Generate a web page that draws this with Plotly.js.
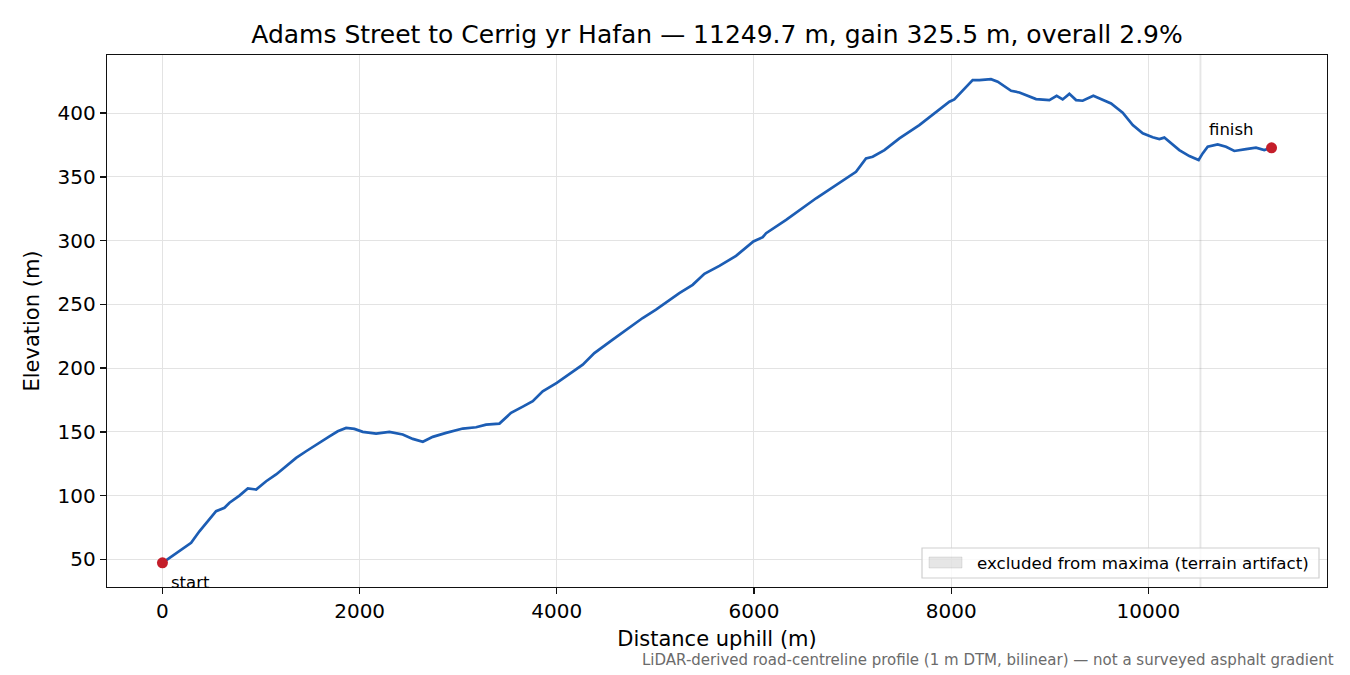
<!DOCTYPE html>
<html>
<head>
<meta charset="utf-8">
<script src="https://cdn.plot.ly/plotly-3.0.1.min.js"></script>
<style>html,body{margin:0;padding:0;background:#fff;}#chart{width:1350px;height:675px;}</style>
</head>
<body>
<div id="chart"></div>
<script>
// Distance uphill (m)
const distance = [0, 172, 291, 375, 443, 544, 629, 680, 781, 866, 950, 1052, 1153, 1254, 1356, 1457, 1558, 1694, 1778, 1863, 1947, 2032, 2167, 2302, 2437, 2539, 2641, 2742, 2877, 3046, 3181, 3283, 3418, 3536, 3655, 3756, 3857, 4000, 4263, 4381, 4567, 4871, 5006, 5243, 5378, 5497, 5649, 5818, 5994, 6089, 6123, 6258, 6326, 6630, 6866, 7035, 7136, 7204, 7323, 7475, 7677, 7880, 7982, 8032, 8117, 8218, 8286, 8404, 8472, 8608, 8692, 8861, 8996, 9070, 9131, 9199, 9267, 9334, 9442, 9537, 9622, 9740, 9842, 9943, 10044, 10112, 10162, 10314, 10416, 10510, 10551, 10602, 10703, 10788, 10872, 10991, 11092, 11176, 11249.7];
// Elevation (m)
const elevation = [47.3, 56.5, 63, 72, 78.7, 87.8, 90.5, 94.4, 100, 105.6, 104.8, 111.3, 116.6, 123, 129.6, 134.8, 140, 146.5, 150.5, 153.1, 152.3, 150, 148.7, 150, 147.9, 144.5, 142.2, 146.1, 149.2, 152.6, 153.6, 155.7, 156.5, 164.9, 169.8, 174, 181.8, 188.4, 202.7, 211.8, 222.3, 239.3, 245.8, 258.8, 265.3, 274, 280.2, 288, 299.3, 302.7, 305.8, 312.3, 316.2, 333.2, 345, 354, 364.5, 365.8, 371, 380.2, 390.6, 402.4, 408.9, 410.7, 418, 425.9, 425.9, 426.6, 424.6, 417.5, 416.2, 411, 410.2, 413.5, 410.7, 415.1, 410.2, 409.7, 413.6, 410.2, 407.6, 400.3, 390.6, 384.1, 381, 379.7, 380.8, 371, 366.3, 363.2, 368.4, 373.6, 375.5, 373.6, 370.3, 371.8, 372.9, 371, 372.8];
// Excluded span (terrain artifact)
const excludedSpan = [10519, 10538];
const endpointLabels = ["start", "finish"];
const legendLabel = "excluded from maxima (terrain artifact)";
const xTicks = [0, 2000, 4000, 6000, 8000, 10000];
const yTicks = [50, 100, 150, 200, 250, 300, 350, 400];

const titleText = "Adams Street to Cerrig yr Hafan — 11249.7 m, gain 325.5 m, overall 2.9%";
const noteText = "LiDAR-derived road-centreline profile (1 m DTM, bilinear) — not a surveyed asphalt gradient";

const xmin = distance[0], xmax = distance[distance.length - 1];
const ymin = Math.min(...elevation), ymax = Math.max(...elevation);
const xpad = (xmax - xmin) * 0.05, ypad = (ymax - ymin) * 0.05;
const xRange = [xmin - xpad, xmax + xpad];
const yRange = [ymin - ypad, ymax + ypad];

const font = "DejaVu Sans, sans-serif";
const n = distance.length;

// plot-area geometry (pixels) used to place the hand-drawn legend box
const W = 1350, H = 675, ML = 107, MR = 23, MT = 55, MB = 88;
const PW = W - ML - MR, PH = H - MT - MB;
const px = v => (v - ML) / PW;          // pixel x -> paper x
const py = v => (H - MB - v) / PH;      // pixel y -> paper y

const traces = [
  {
    x: [excludedSpan[0], excludedSpan[1], excludedSpan[1], excludedSpan[0], excludedSpan[0]],
    y: [yRange[0], yRange[0], yRange[1], yRange[1], yRange[0]],
    type: "scatter", mode: "lines", fill: "toself",
    fillcolor: "rgba(128,128,128,0.2)",
    line: {width: 0, color: "rgba(0,0,0,0)"},
    name: legendLabel, showlegend: false, hoverinfo: "skip"
  },
  {
    x: distance, y: elevation, type: "scatter", mode: "lines",
    line: {color: "#1c5db4", width: 2.7},
    showlegend: false
  },
  {
    x: [distance[0], distance[n - 1]], y: [elevation[0], elevation[n - 1]],
    type: "scatter", mode: "markers",
    marker: {color: "#c41e2a", size: 11},
    showlegend: false
  }
];

const axisCommon = {
  showline: true, mirror: true, linecolor: "#111", linewidth: 1.3,
  ticks: "outside", ticklen: 6, tickwidth: 1.3, tickcolor: "#111",
  showgrid: true, gridcolor: "#e3e3e3", gridwidth: 1,
  zeroline: false, tickfont: {family: font, size: 20, color: "#000"}
};

const layout = {
  width: W, height: H,
  margin: {l: ML, r: MR, t: MT, b: MB},
  paper_bgcolor: "#fff", plot_bgcolor: "#fff",
  font: {family: font, color: "#000"},
  showlegend: false,
  title: {text: titleText, font: {family: font, size: 25, color: "#000"},
          x: 0.5, xref: "paper", y: 1 - 34 / H, yref: "container", yanchor: "middle"},
  xaxis: Object.assign({}, axisCommon, {
    range: xRange, tickvals: xTicks, ticktext: xTicks.map(String),
    title: {text: "Distance uphill (m)", font: {family: font, size: 21, color: "#000"}, standoff: 9}
  }),
  yaxis: Object.assign({}, axisCommon, {
    range: yRange, tickvals: yTicks, ticktext: yTicks.map(String),
    title: {text: "Elevation (m)", font: {family: font, size: 21, color: "#000"}, standoff: 12}
  }),
  shapes: [
    // legend frame
    {type: "rect", xref: "paper", yref: "paper", x0: px(922), x1: px(1319), y0: py(578), y1: py(548),
     fillcolor: "rgba(255,255,255,0.8)", line: {color: "#cfcfcf", width: 1.2}},
    // legend patch
    {type: "rect", xref: "paper", yref: "paper", x0: px(929), x1: px(962), y0: py(568), y1: py(557),
     fillcolor: "rgba(128,128,128,0.2)", line: {color: "rgba(128,128,128,0.2)", width: 1}}
  ],
  annotations: [
    {x: px(974.5), y: py(562.5), xref: "paper", yref: "paper", text: legendLabel,
     showarrow: false, xanchor: "left", yanchor: "middle",
     font: {family: font, size: 16.7, color: "#000"}},
    {x: distance[0], y: elevation[0], xref: "x", yref: "y", text: endpointLabels[0],
     showarrow: false, xanchor: "left", yanchor: "middle", xshift: 7, yshift: -20,
     font: {family: font, size: 16.5, color: "#000"}},
    {x: distance[n - 1], y: elevation[n - 1], xref: "x", yref: "y", text: endpointLabels[1],
     showarrow: false, xanchor: "center", yanchor: "middle", xshift: -40, yshift: 18,
     font: {family: font, size: 16.5, color: "#000"}},
    {x: px(1336), y: py(660), xref: "paper", yref: "paper", text: noteText,
     showarrow: false, xanchor: "right", yanchor: "middle",
     font: {family: font, size: 15, color: "#6b6b6b"}}
  ]
};

Plotly.newPlot("chart", traces, layout, {staticPlot: true, displayModeBar: false});
</script>
</body>
</html>
